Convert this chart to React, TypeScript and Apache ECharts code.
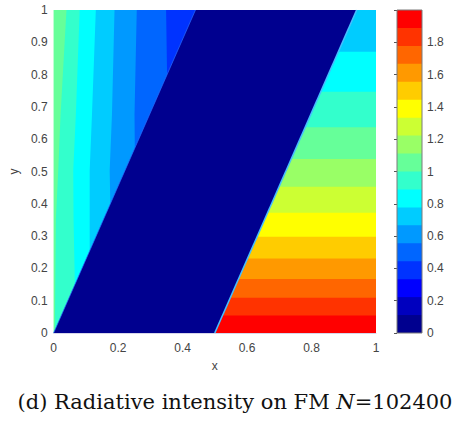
import React, { useEffect, useRef } from "react";
import * as echarts from "echarts";

// 18 colour levels from 0 to 2 (step 2/18)
const bandColors = [
  "#00008F", "#0000BF", "#0000FF", "#0033FF", "#0066FF", "#0099FF",
  "#00CCFF", "#00FFFF", "#33FFCC", "#66FF99", "#99FF66", "#CCFF33",
  "#FFFF00", "#FFCC00", "#FF9900", "#FF6600", "#FF3300", "#FF0000",
];
const levelMin = 0;
const levelMax = 2;

const xTicks = [0, 0.2, 0.4, 0.6, 0.8, 1];
const yTicks = [0, 0.1, 0.2, 0.3, 0.4, 0.5, 0.6, 0.7, 0.8, 0.9, 1];
const colorbarTicks = [0, 0.2, 0.4, 0.6, 0.8, 1, 1.2, 1.4, 1.6, 1.8];

// zero-intensity (shadow) band edges, as [x, y]
const darkLeftEdge = [[0, 0], [0.44, 1]];
const darkRightEdge = [[0.5, 0], [0.94, 1]];

// left region: level at the wall and contour lines (top -> where they meet the shadow band)
const leftWallBand = 9;
const leftContours = [
  [[0.040, 1], [0.0216, 0.674], [0.0145, 0.503], [0.007, 0.35], [0.004, 0.01]],
  [[0.081, 1], [0.069, 0.674], [0.061, 0.503], [0.062, 0.35], [0.066, 0.15]],
  [[0.131, 1], [0.119, 0.674], [0.112, 0.503], [0.112, 0.255]],
  [[0.189, 1], [0.181, 0.674], [0.174, 0.503], [0.176, 0.40]],
  [[0.258, 1], [0.251, 0.674], [0.252, 0.573]],
  [[0.349, 1], [0.352, 0.8]],
];

// right region: horizontal contour levels
const rightTopY = [1, 0.871, 0.747, 0.637, 0.539, 0.453, 0.372, 0.298, 0.231, 0.167, 0.109, 0.054];
const rightBands = [6, 7, 8, 9, 10, 11, 12, 13, 14, 15, 16, 17];

type Shape = { kind: "poly" | "line"; band?: number; color?: string; width?: number; pts: number[][] };

function buildShapes(): Shape[] {
  const shapes: Shape[] = [];
  const xLim = darkRightEdge[0][0];
  shapes.push({ kind: "poly", band: leftWallBand, pts: [[0, 0], [xLim, 0], [xLim, 1], [0, 1]] });
  leftContours.forEach((c, i) => {
    const last = c[c.length - 1];
    shapes.push({
      kind: "poly",
      band: leftWallBand - (i + 1),
      pts: [...c, [last[0], 0], [xLim, 0], [xLim, 1]],
    });
  });
  rightTopY.forEach((top, i) => {
    shapes.push({ kind: "poly", band: rightBands[i], pts: [[xLim, 0], [1, 0], [1, top], [xLim, top]] });
  });
  shapes.push({
    kind: "poly",
    band: 0,
    pts: [darkLeftEdge[0], darkRightEdge[0], darkRightEdge[1], darkLeftEdge[1]],
  });
  shapes.push({ kind: "line", color: "rgba(40,110,255,0.7)", width: 1, pts: darkLeftEdge });
  shapes.push({ kind: "line", color: "#45BEFF", width: 1.6, pts: darkRightEdge });
  return shapes;
}

export default function App() {
  const ref = useRef<HTMLDivElement>(null);
  useEffect(() => {
    if (!ref.current) return;
    const chart = echarts.init(ref.current, undefined, { renderer: "svg" });
    const shapes = buildShapes();
    const step = (levelMax - levelMin) / bandColors.length;
    const cbOrder = bandColors.map((_, i) => bandColors.length - 1 - i);
    const labelStyle = { color: "#444", fontSize: 12, fontFamily: "Liberation Sans, Arial, sans-serif" };

    chart.setOption({
      animation: false,
      backgroundColor: "#ffffff",
      title: {
        text: "{a|(d) Radiative intensity on FM }{b|N}{a|=102400}",
        left: "center",
        top: 386,
        textStyle: {
          fontWeight: "normal",
          rich: {
            a: { fontFamily: "DejaVu Serif", fontSize: 21, fontWeight: "normal", color: "#111" },
            b: { fontFamily: "DejaVu Serif", fontSize: 21, fontWeight: "normal", fontStyle: "italic", color: "#111" },
          },
        },
      },
      grid: [
        { left: 52, top: 10, width: 324, height: 323 },
        { left: 397, top: 10, width: 25, height: 323 },
      ],
      xAxis: [
        {
          gridIndex: 0, type: "value", min: 0, max: 1, interval: 0.2,
          axisLine: { show: true, lineStyle: { color: "#d6d6ea" } },
          axisTick: { show: false }, splitLine: { show: false },
          axisLabel: { ...labelStyle, margin: 9, formatter: (v: number) => String(+v.toFixed(1)) },
          name: "x", nameLocation: "middle", nameGap: 27, nameTextStyle: labelStyle,
        },
        { gridIndex: 1, type: "value", min: 0, max: 1, show: false },
      ],
      yAxis: [
        {
          gridIndex: 0, type: "value", min: 0, max: 1, interval: 0.1,
          axisLine: { show: false }, axisTick: { show: false }, splitLine: { show: false },
          axisLabel: { ...labelStyle, margin: 6, formatter: (v: number) => String(+v.toFixed(1)) },
          name: "y", nameLocation: "middle", nameGap: 30, nameRotate: 90, nameTextStyle: labelStyle,
        },
        {
          gridIndex: 1, type: "value", position: "right", min: levelMin, max: levelMax, interval: 0.2,
          axisLine: { show: false },
          axisTick: { show: true, inside: true, length: 3, lineStyle: { color: "#555" } },
          splitLine: { show: false },
          axisLabel: {
            ...labelStyle, margin: 5,
            formatter: (v: number) => (colorbarTicks.some((t) => Math.abs(t - v) < 1e-6) ? String(+v.toFixed(1)) : ""),
          },
        },
      ],
      series: [
        {
          type: "custom",
          xAxisIndex: 0, yAxisIndex: 0,
          silent: true,
          data: shapes.map((_, i) => [i]),
          renderItem: (params: any, api: any) => {
            const s = shapes[params.dataIndex];
            const points = s.pts.map((p) => api.coord(p));
            if (s.kind === "line") {
              return { type: "polyline", shape: { points }, style: { stroke: s.color, lineWidth: s.width, fill: null } };
            }
            return { type: "polygon", shape: { points }, style: { fill: bandColors[s.band as number] } };
          },
        },
        {
          type: "custom",
          xAxisIndex: 1, yAxisIndex: 1,
          silent: true,
          data: cbOrder.map((k) => [k]),
          renderItem: (params: any, api: any) => {
            const k = cbOrder[params.dataIndex];
            const p0 = api.coord([0, levelMin]);
            const p1 = api.coord([1, levelMin + (k + 1) * step]);
            return {
              type: "rect",
              shape: { x: p0[0], y: p1[1], width: p1[0] - p0[0], height: p0[1] - p1[1] },
              style: { fill: bandColors[k] },
            };
          },
        },
        {
          type: "custom",
          xAxisIndex: 1, yAxisIndex: 1,
          silent: true,
          data: [[0]],
          z: 5,
          renderItem: (params: any, api: any) => {
            const p0 = api.coord([0, levelMin]);
            const p1 = api.coord([1, levelMax]);
            return {
              type: "rect",
              shape: { x: p0[0], y: p1[1], width: p1[0] - p0[0], height: p0[1] - p1[1] },
              style: { fill: null, stroke: "#7a7a7a", lineWidth: 1 },
            };
          },
        },
      ],
    });
    return () => chart.dispose();
  }, []);
  return <div ref={ref} style={{ position: "fixed", left: 0, top: 0, width: 470, height: 424 }} />;
}
